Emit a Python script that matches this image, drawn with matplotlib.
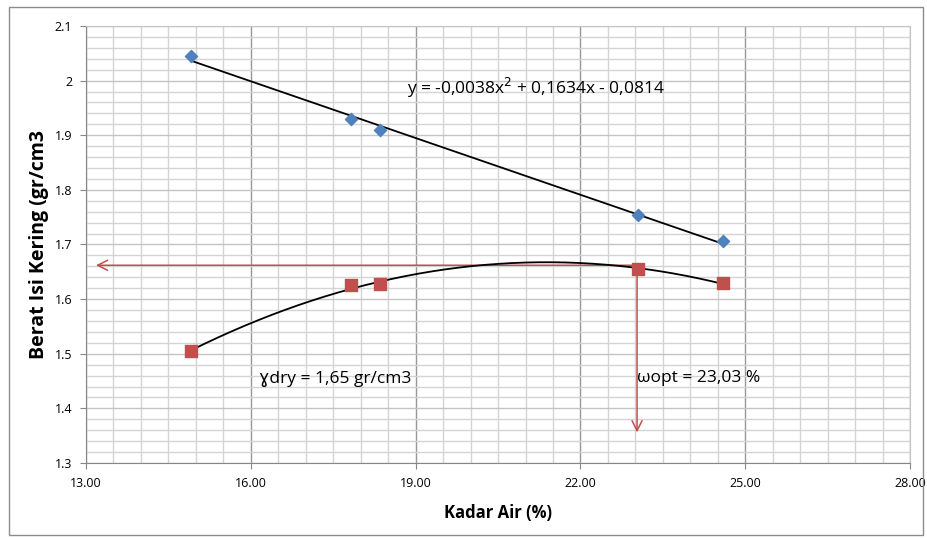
import matplotlib.pyplot as plt
import numpy as np
from matplotlib.ticker import MultipleLocator, FuncFormatter
from matplotlib.patches import Rectangle

# data
kadar_air = [14.91, 17.83, 18.36, 23.04, 24.60]
berat_basah = [2.045, 1.930, 1.910, 1.754, 1.706]
berat_kering = [1.505, 1.626, 1.627, 1.655, 1.629]

x_ticks = [13, 16, 19, 22, 25, 28]

w_opt = 23.03
gamma_dry = 1.662

eq_text = 'y = -0,0038x$^2$ + 0,1634x - 0,0814'
gd_text = '\u0263dry = 1,65 gr/cm3'
wo_text = '\u03c9opt = 23,03 %'

plt.rcParams['font.family'] = ['Open Sans', 'DejaVu Sans']

fig = plt.figure(figsize=(9.28, 5.38), dpi=100)
ax = fig.add_axes([0.0927, 0.1394, 0.888, 0.8123])

# frame around the whole chart
fig.patches.append(Rectangle((0.010, 0.006), 0.985, 0.981, transform=fig.transFigure,
                             fill=False, edgecolor='#8c8c8c', lw=1))

# trendlines
xs = np.linspace(min(kadar_air), max(kadar_air), 200)
lin = np.polyfit(kadar_air, berat_basah, 1)
quad = np.polyfit(kadar_air, berat_kering, 2)
ax.plot(xs, np.polyval(lin, xs), color='black', lw=1.3, zorder=3)
ax.plot(xs, np.polyval(quad, xs), color='black', lw=1.3, zorder=3)

ax.scatter(kadar_air, berat_basah, marker='D', s=38, color='#4F81BD', zorder=4)
ax.scatter(kadar_air, berat_kering, marker='s', s=80, color='#C0504D', zorder=4)

# arrows for optimum
ax.annotate('', xy=(13.18, gamma_dry), xytext=(w_opt, gamma_dry),
            arrowprops=dict(arrowstyle='->', color='#C0504D', lw=1.1,
                            mutation_scale=18, shrinkA=0, shrinkB=0), zorder=2)
ax.annotate('', xy=(w_opt, 1.356), xytext=(w_opt, gamma_dry),
            arrowprops=dict(arrowstyle='->', color='#C0504D', lw=1.1,
                            mutation_scale=18, shrinkA=0, shrinkB=0), zorder=2)

ax.text(18.85, 1.986, eq_text, fontsize=12.5, va='center', ha='left')
ax.text(16.15, 1.453, gd_text, fontsize=12.5, va='center', ha='left')
ax.text(23.02, 1.455, wo_text, fontsize=12.5, va='center', ha='left')

ax.set_xlim(13, 28)
ax.set_ylim(1.3, 2.1)
ax.set_xticks(x_ticks)
ax.xaxis.set_minor_locator(MultipleLocator(0.5))
ax.yaxis.set_major_locator(MultipleLocator(0.1))
ax.yaxis.set_minor_locator(MultipleLocator(0.02))
ax.xaxis.set_major_formatter(FuncFormatter(lambda v, p: f'{v:.2f}'))
ax.yaxis.set_major_formatter(FuncFormatter(lambda v, p: f'{v:.1f}'.rstrip('0').rstrip('.')))

ax.grid(which='minor', color='#d4d4d4', lw=1)
ax.grid(which='major', axis='y', color='#c4c4c4', lw=1)
ax.grid(which='major', axis='x', color='#989898', lw=1)
ax.set_axisbelow(True)

ax.tick_params(which='minor', length=0)
ax.tick_params(which='major', length=4, color='#868686', labelsize=9, pad=6)
for s in ['left', 'bottom']:
    ax.spines[s].set_color('#868686')
for s in ['top', 'right']:
    ax.spines[s].set_color('#c4c4c4')

ax.set_xlabel('Kadar Air (%)', fontsize=12, fontweight='bold', labelpad=10)
ax.set_ylabel('Berat Isi Kering (gr/cm3', fontsize=14, fontweight='bold', labelpad=4)

plt.savefig('out.png', dpi=100)
